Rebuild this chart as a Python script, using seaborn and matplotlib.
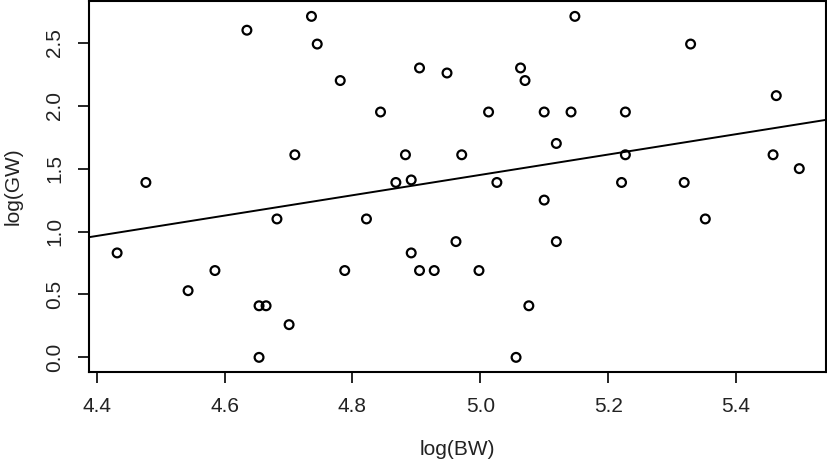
import matplotlib
matplotlib.use("Agg")
import matplotlib.pyplot as plt
import seaborn as sns
import pandas as pd

log_bw = [4.635, 4.477, 4.736, 4.745, 4.781, 4.844, 4.710, 4.883, 4.905, 4.948,
          4.868, 4.892, 5.148, 5.063, 5.070, 5.013, 5.100, 5.142, 5.227, 5.119,
          4.971, 5.227, 5.026, 5.221, 5.329, 5.463, 5.458, 5.499, 5.319, 4.432,
          4.585, 4.543, 4.654, 4.665, 4.654, 4.701, 4.682, 4.822, 4.788, 4.892,
          4.905, 4.928, 4.962, 5.100, 5.119, 4.998, 5.076, 5.056, 5.352]
log_gw = [2.60, 1.39, 2.71, 2.49, 2.20, 1.95, 1.61, 1.61, 2.30, 2.26,
          1.39, 1.41, 2.71, 2.30, 2.20, 1.95, 1.95, 1.95, 1.95, 1.70,
          1.61, 1.61, 1.39, 1.39, 2.49, 2.08, 1.61, 1.50, 1.39, 0.83,
          0.69, 0.53, 0.41, 0.41, 0.00, 0.26, 1.10, 1.10, 0.69, 0.83,
          0.69, 0.69, 0.92, 1.25, 0.92, 0.69, 0.41, 0.00, 1.10]
x_ticks = [4.4, 4.6, 4.8, 5.0, 5.2, 5.4]
y_ticks = [0.0, 0.5, 1.0, 1.5, 2.0, 2.5]
x_label = "log(BW)"
y_label = "log(GW)"

df = pd.DataFrame({"bw": log_bw, "gw": log_gw})

sns.set_theme(style="ticks")
plt.rcParams["font.family"] = ["Liberation Sans", "DejaVu Sans"]

fig = plt.figure(figsize=(8.27, 4.59), dpi=100)
ax = fig.add_axes([0.1076, 0.1895, 0.8912, 0.808])
ax.set_xlim(4.388, 5.5408)
ax.set_ylim(-0.1165, 2.831)

sns.regplot(data=df, x="bw", y="gw", scatter=False, ci=None, truncate=False,
            line_kws={"color": "black", "lw": 1.4}, ax=ax)
sns.scatterplot(data=df, x="bw", y="gw", marker="o", s=40,
                facecolor="none", edgecolor="black", linewidth=1.6, ax=ax, zorder=3)

ax.set_xlim(4.388, 5.5408)
ax.set_ylim(-0.1165, 2.831)
ax.set_xticks(x_ticks)
ax.set_xticklabels([f"{v:.1f}" for v in x_ticks])
ax.set_yticks(y_ticks)
ax.set_yticklabels([f"{v:.1f}" for v in y_ticks], rotation=90, va="center")
ax.tick_params(axis="both", direction="out", length=8, width=1.2, color="black",
               labelsize=15, labelcolor="#222222", pad=10)
for sp in ax.spines.values():
    sp.set_visible(True)
    sp.set_linewidth(1.5)
    sp.set_color("black")

ax.set_xlabel(x_label, fontsize=15, color="#222222", labelpad=17)
ax.set_ylabel(y_label, fontsize=15, color="#222222", labelpad=16)

fig.savefig("out.png", dpi=100)
